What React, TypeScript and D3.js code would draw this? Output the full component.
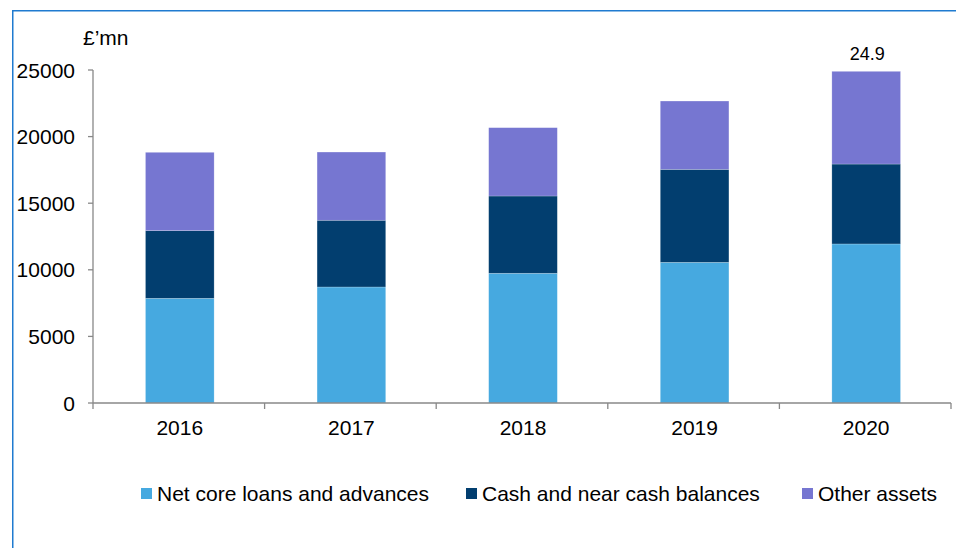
import React from 'react';
import * as d3 from 'd3';

const years = ['2016', '2017', '2018', '2019', '2020'];
const netCoreLoans = [7860, 8710, 9740, 10560, 11940];
const cashBalances = [5080, 5010, 5800, 6980, 6000];
const otherAssets = [5880, 5120, 5130, 5130, 6960];
const seriesNames = ['Net core loans and advances', 'Cash and near cash balances', 'Other assets'];
const seriesColors = ['#46A9E0', '#023E6F', '#7676D1'];
const yTicks = [0, 5000, 10000, 15000, 20000, 25000];
const totalLabel = '24.9';
const unitLabel = '£’mn';

const W = 956;
const H = 548;
const FONT = '"Liberation Sans", Arial, sans-serif';

export default function App() {
  const rows = years.map((y, i) => ({
    year: y,
    a: netCoreLoans[i],
    b: cashBalances[i],
    c: otherAssets[i],
  }));
  const stack = d3.stack<any>().keys(['a', 'b', 'c']);
  const layers = stack(rows);

  const x = d3.scaleBand<string>().domain(years).range([94, 952]).paddingInner(0.6).paddingOuter(0.3);
  const y = d3.scaleLinear().domain([0, 25000]).range([403, 70]);
  const step = x.step();
  const x0 = 93;

  const boundaries = d3.range(years.length + 1).map((i) => x0 + i * step);
  const legendX = [141, 466, 802];
  const lastTotal = netCoreLoans[4] + cashBalances[4] + otherAssets[4];

  return (
    <svg width={W} height={H} style={{ position: 'absolute', left: 0, top: 0, background: '#fff' }} fontFamily={FONT}>
      <rect x={0} y={0} width={W} height={H} fill="#fff" />
      <rect x={12.75} y={10.75} width={W + 20} height={H + 20} fill="none" stroke="#1F7BD0" strokeWidth={1.5} />

      {layers.map((layer, li) => (
        <g key={li}>
          {layer.map((d, i) => (
            <rect
              key={i}
              x={x(years[i])}
              y={y(d[1])}
              width={x.bandwidth()}
              height={y(d[0]) - y(d[1])}
              fill={seriesColors[li]}
              stroke="#ffffff"
              strokeOpacity={0.35}
              strokeWidth={0.6}
            />
          ))}
        </g>
      ))}

      {/* y axis */}
      <line x1={93} x2={93} y1={y(25000)} y2={y(0)} stroke="#888" strokeWidth={1.3} />
      {yTicks.map((t) => (
        <g key={t}>
          <line x1={88} x2={93} y1={y(t)} y2={y(t)} stroke="#888" strokeWidth={1.3} />
          <text x={75} y={y(t) + 7.5} textAnchor="end" fontSize={21} fill="#000">
            {t}
          </text>
        </g>
      ))}

      {/* x axis */}
      <line x1={93} x2={951} y1={y(0)} y2={y(0)} stroke="#888" strokeWidth={1.3} />
      {boundaries.map((b, i) => (
        <line key={i} x1={b} x2={b} y1={y(0)} y2={y(0) + 6} stroke="#888" strokeWidth={1.3} />
      ))}
      {years.map((yr) => (
        <text key={yr} x={(x(yr) as number) + x.bandwidth() / 2} y={435} textAnchor="middle" fontSize={21} fill="#000">
          {yr}
        </text>
      ))}

      <text x={83} y={45} fontSize={21} fill="#000">{unitLabel}</text>
      <text x={(x(years[4]) as number) + x.bandwidth() / 2 + 1} y={y(lastTotal) - 11} textAnchor="middle" fontSize={18} fill="#000">
        {totalLabel}
      </text>

      {/* legend */}
      {seriesNames.map((n, i) => (
        <g key={n}>
          <rect x={legendX[i]} y={488} width={11} height={11} fill={seriesColors[i]} />
          <text x={legendX[i] + 16} y={501} fontSize={21} fill="#000">{n}</text>
        </g>
      ))}
    </svg>
  );
}
